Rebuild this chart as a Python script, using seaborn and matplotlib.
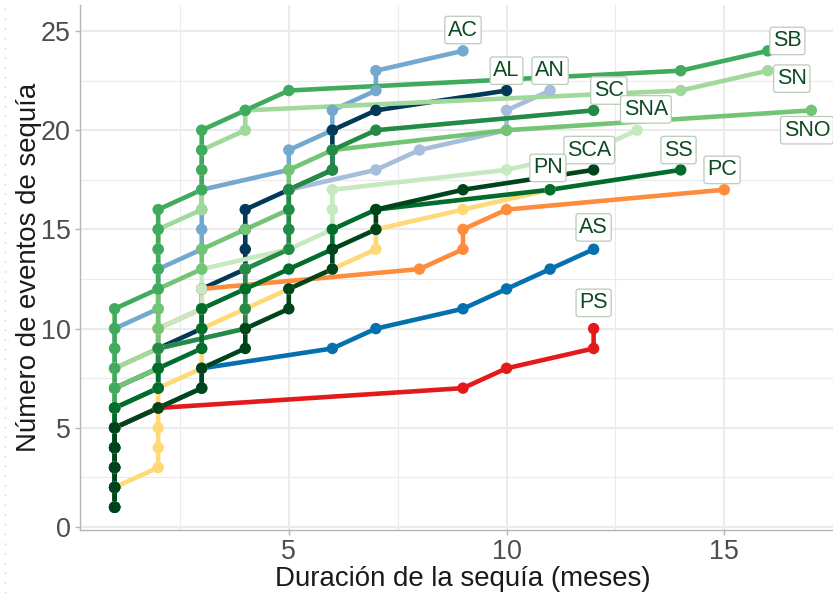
import numpy as np
import pandas as pd
import matplotlib
matplotlib.use("Agg")
import matplotlib.pyplot as plt
import seaborn as sns
from matplotlib.ticker import MultipleLocator
from matplotlib.lines import Line2D

# ---- data: sorted drought durations (months) for each station ----
AC = [1, 1, 1, 1, 1, 1, 1, 1, 1, 1, 2, 2, 2, 3, 3, 3, 3, 5, 5, 6, 6, 7, 7, 9]
AL = [1, 1, 1, 1, 1, 1, 1, 2, 2, 3, 3, 3, 4, 4, 4, 4, 5, 6, 6, 6, 7, 10]
AN = [1, 1, 1, 1, 1, 1, 2, 2, 2, 4, 4, 4, 4, 5, 5, 5, 5, 7, 8, 10, 10, 11]
AS = [1, 1, 1, 1, 1, 2, 3, 3, 6, 7, 9, 10, 11, 12]
PC = [1, 1, 1, 1, 1, 1, 1, 1, 2, 2, 3, 3, 8, 9, 9, 10, 15]
PN = [1, 1, 2, 2, 2, 2, 2, 3, 3, 3, 4, 5, 6, 7, 7, 9, 11]
PS = [1, 1, 1, 1, 1, 2, 9, 10, 12, 12]
SNA = [1, 1, 1, 1, 1, 1, 1, 1, 2, 2, 3, 3, 3, 5, 6, 6, 6, 10, 12, 13]
SN = [1, 1, 1, 1, 1, 1, 1, 1, 2, 2, 2, 2, 2, 2, 2, 3, 3, 3, 3, 4, 4, 14, 16]
SNO = [1, 1, 1, 1, 1, 1, 1, 2, 2, 2, 2, 2, 3, 3, 4, 5, 5, 5, 6, 10, 17]
SB = [1, 1, 1, 1, 1, 1, 1, 1, 1, 1, 1, 2, 2, 2, 2, 2, 3, 3, 3, 3, 4, 5, 14, 16]
SC = [1, 1, 1, 1, 1, 1, 2, 2, 2, 4, 4, 4, 4, 5, 5, 5, 5, 6, 6, 7, 12]
SS = [1, 1, 1, 1, 1, 1, 2, 2, 3, 3, 3, 4, 5, 6, 6, 7, 11, 14]
SCA = [1, 1, 1, 1, 1, 2, 3, 3, 4, 4, 5, 5, 6, 6, 7, 7, 9, 12]

series_names = ["AC", "AL", "AN", "AS", "PC", "PN", "PS",
                "SNA", "SN", "SNO", "SB", "SC", "SS", "SCA"]
series_values = [AC, AL, AN, AS, PC, PN, PS, SNA, SN, SNO, SB, SC, SS, SCA]
series_colors = ["#74a9cf", "#023858", "#a6bddb", "#0570b0", "#fd8d3c",
                 "#fed976", "#e31a1c", "#c7e9c0", "#a1d99b", "#74c476",
                 "#41ab5d", "#238b45", "#006d2c", "#00441b"]

# label positions (data coords)
label_names = ["AC", "AL", "AN", "SC", "SNA", "SB", "SN", "SNO",
               "SCA", "PN", "SS", "PC", "AS", "PS"]
label_x = [9.0, 10.0, 11.0, 12.35, 13.2, 16.45, 16.55, 16.9,
           11.9, 10.95, 13.95, 14.95, 12.0, 12.0]
label_y = [25.05, 23.0, 23.0, 22.0, 21.05, 24.5, 22.6, 20.0,
           19.0, 18.1, 19.0, 18.0, 15.1, 11.3]

rows = []
for name, vals in zip(series_names, series_values):
    for k, d in enumerate(vals):
        rows.append({"serie": name, "duracion": d, "eventos": k + 1})
df = pd.DataFrame(rows)
palette = dict(zip(series_names, series_colors))

sns.set_theme(style="white")
plt.rcParams["font.family"] = ["Liberation Sans", "DejaVu Sans"]

fig = plt.figure(figsize=(8.33, 5.93), dpi=100)
ax = fig.add_axes([0.0958, 0.1069, 0.920, 0.8843])

sns.lineplot(data=df, x="duracion", y="eventos", hue="serie",
             hue_order=series_names, palette=palette, estimator=None,
             sort=False, linewidth=3.3, legend=False, ax=ax, zorder=2)
sns.scatterplot(data=df, x="duracion", y="eventos", hue="serie",
                hue_order=series_names, palette=palette, s=68,
                edgecolor="none", linewidth=0, legend=False, ax=ax, zorder=3)

for name, lx, ly in zip(label_names, label_x, label_y):
    ax.text(lx, ly, name, ha="center", va="center", fontsize=15.5,
            color="#0d4a22", zorder=5, clip_on=False,
            bbox=dict(boxstyle="round,pad=0.15,rounding_size=0.12",
                      fc="white", ec="#b9cbb9", lw=0.9))

ax.set_xlim(0.2, 17.8)
ax.set_ylim(-0.13, 26.3)
ax.xaxis.set_major_locator(MultipleLocator(5))
ax.xaxis.set_minor_locator(MultipleLocator(2.5))
ax.yaxis.set_major_locator(MultipleLocator(5))
ax.yaxis.set_minor_locator(MultipleLocator(2.5))
ax.grid(which="major", color="#ebebeb", linewidth=1.5, zorder=0)
ax.grid(which="minor", color="#ebebeb", linewidth=0.8, zorder=0)
ax.set_axisbelow(True)

for side in ["top", "right"]:
    ax.spines[side].set_visible(False)
for side in ["left", "bottom"]:
    ax.spines[side].set_color("#b5b5b5")
    ax.spines[side].set_linewidth(1.0)

ax.tick_params(axis="both", which="major", length=3.5, width=1.0,
               color="#b5b5b5", labelsize=19.4, labelcolor="#4d4d4d",
               pad=3, bottom=True, left=True)
ax.tick_params(axis="both", which="minor", length=0)

ax.set_xlabel("Duración de la sequía (meses)", fontsize=19.9,
              color="#1a1a1a", labelpad=1)
ax.set_ylabel("Número de eventos de sequía", fontsize=19.9,
              color="#1a1a1a", labelpad=-1)

fig.add_artist(Line2D([0.006, 0.006], [0.0, 1.0], transform=fig.transFigure,
                      linestyle=(0, (1, 6)), color="#d0d0d0", linewidth=1.0))

fig.savefig("out.png", dpi=100)
